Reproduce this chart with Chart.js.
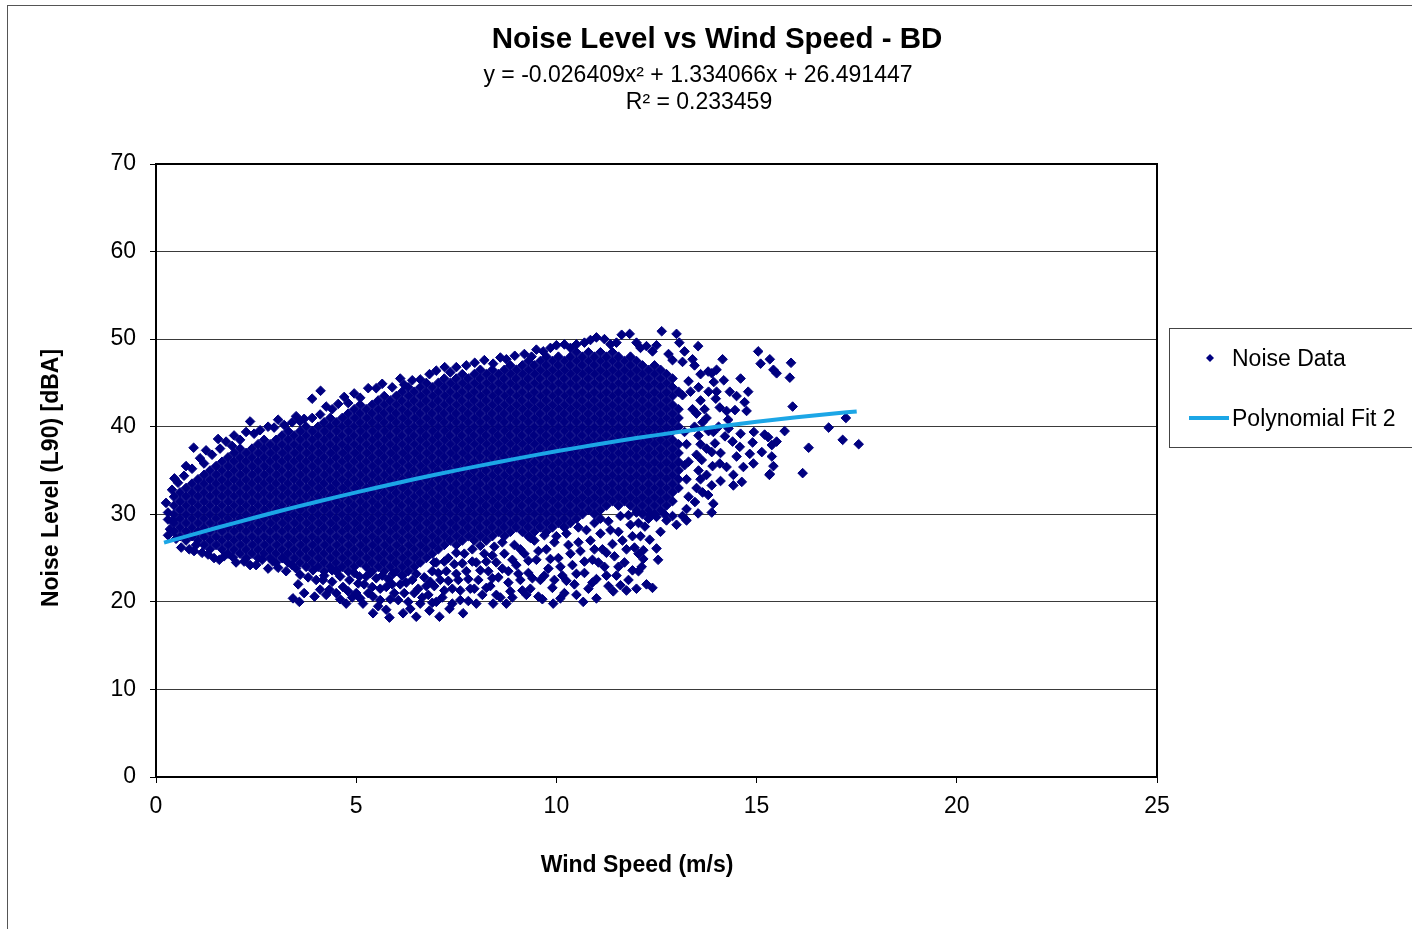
<!DOCTYPE html>
<html>
<head>
<meta charset="utf-8">
<title>Noise Level vs Wind Speed - BD</title>
<script src="https://cdn.jsdelivr.net/npm/chart.js@4.4.1/dist/chart.umd.min.js"></script>
<style>
  html, body { margin: 0; padding: 0; background: #fff; }
  #wrap { position: relative; width: 1412px; height: 929px; }
</style>
</head>
<body>
<div id="wrap"><canvas id="noiseChart"></canvas></div>
<script>
const chartTitle = 'Noise Level vs Wind Speed - BD';
const fitEquation = 'y = -0.026409x\u00B2 + 1.334066x + 26.491447';
const fitR2 = 'R\u00B2 = 0.233459';
const xTitle = 'Wind Speed (m/s)';
const yTitle = 'Noise Level (L90) [dBA]';
const legendLabels = ['Noise Data', 'Polynomial Fit 2'];

const xTicks = [0, 5, 10, 15, 20, 25];
const yTicks = [0, 10, 20, 30, 40, 50, 60, 70];

// dense body of the cloud, read column by column (wind speed -> noise levels)
const coreWind = [0.45, 0.6, 0.75, 0.9, 1.05, 1.2, 1.35, 1.5, 1.65, 1.8, 1.95, 2.1, 2.25, 2.4, 2.55, 2.7, 2.85, 3, 3.15, 3.3,
  3.45, 3.6, 3.75, 3.9, 4.05, 4.2, 4.35, 4.5, 4.65, 4.8, 4.95, 5.1, 5.25, 5.4, 5.55, 5.7, 5.85, 6, 6.15, 6.3,
  6.45, 6.6, 6.75, 6.9, 7.05, 7.2, 7.35, 7.5, 7.65, 7.8, 7.95, 8.1, 8.25, 8.4, 8.55, 8.7, 8.85, 9, 9.15, 9.3,
  9.45, 9.6, 9.75, 9.9, 10.05, 10.2, 10.35, 10.5, 10.65, 10.8, 10.95, 11.1, 11.25, 11.4, 11.55, 11.7, 11.85, 12, 12.15, 12.3,
  12.45, 12.6, 12.75, 12.9, 13.05];
const coreNoise = [
  [28,29,30,31,32],
  [27.5,28.5,29.5,30.5,31.5,32.5],
  [27,28,29,30,31,32,33],
  [27.5,28.5,29.5,30.5,31.5,32.5,33.5],
  [27,28,29,30,31,32,33,34],
  [26.5,27.5,28.5,29.5,30.5,31.5,32.5,33.5,34.5],
  [26,27,28,29,30,31,32,33,34,35],
  [26.5,27.5,28.5,29.5,30.5,31.5,32.5,33.5,34.5,35.5],
  [26,27,28,29,30,31,32,33,34,35,36],
  [25.5,26.5,27.5,28.5,29.5,30.5,31.5,32.5,33.5,34.5,35.5,36.5],
  [26,27,28,29,30,31,32,33,34,35,36,37],
  [25.5,26.5,27.5,28.5,29.5,30.5,31.5,32.5,33.5,34.5,35.5,36.5,37.5],
  [25,26,27,28,29,30,31,32,33,34,35,36,37],
  [25.5,26.5,27.5,28.5,29.5,30.5,31.5,32.5,33.5,34.5,35.5,36.5,37.5],
  [25,26,27,28,29,30,31,32,33,34,35,36,37,38],
  [25.5,26.5,27.5,28.5,29.5,30.5,31.5,32.5,33.5,34.5,35.5,36.5,37.5,38.5],
  [25,26,27,28,29,30,31,32,33,34,35,36,37,38],
  [24.5,25.5,26.5,27.5,28.5,29.5,30.5,31.5,32.5,33.5,34.5,35.5,36.5,37.5,38.5],
  [25,26,27,28,29,30,31,32,33,34,35,36,37,38,39],
  [24.5,25.5,26.5,27.5,28.5,29.5,30.5,31.5,32.5,33.5,34.5,35.5,36.5,37.5,38.5,39.5],
  [25,26,27,28,29,30,31,32,33,34,35,36,37,38,39],
  [24.5,25.5,26.5,27.5,28.5,29.5,30.5,31.5,32.5,33.5,34.5,35.5,36.5,37.5,38.5,39.5],
  [24,25,26,27,28,29,30,31,32,33,34,35,36,37,38,39,40],
  [24.5,25.5,26.5,27.5,28.5,29.5,30.5,31.5,32.5,33.5,34.5,35.5,36.5,37.5,38.5,39.5],
  [24,25,26,27,28,29,30,31,32,33,34,35,36,37,38,39,40],
  [23.5,24.5,25.5,26.5,27.5,28.5,29.5,30.5,31.5,32.5,33.5,34.5,35.5,36.5,37.5,38.5,39.5,40.5],
  [24,25,26,27,28,29,30,31,32,33,34,35,36,37,38,39,40,41],
  [23.5,24.5,25.5,26.5,27.5,28.5,29.5,30.5,31.5,32.5,33.5,34.5,35.5,36.5,37.5,38.5,39.5,40.5],
  [24,25,26,27,28,29,30,31,32,33,34,35,36,37,38,39,40,41],
  [23.5,24.5,25.5,26.5,27.5,28.5,29.5,30.5,31.5,32.5,33.5,34.5,35.5,36.5,37.5,38.5,39.5,40.5,41.5],
  [24,25,26,27,28,29,30,31,32,33,34,35,36,37,38,39,40,41,42],
  [24.5,25.5,26.5,27.5,28.5,29.5,30.5,31.5,32.5,33.5,34.5,35.5,36.5,37.5,38.5,39.5,40.5,41.5,42.5],
  [24,25,26,27,28,29,30,31,32,33,34,35,36,37,38,39,40,41,42],
  [23.5,24.5,25.5,26.5,27.5,28.5,29.5,30.5,31.5,32.5,33.5,34.5,35.5,36.5,37.5,38.5,39.5,40.5,41.5,42.5],
  [24,25,26,27,28,29,30,31,32,33,34,35,36,37,38,39,40,41,42,43],
  [23.5,24.5,25.5,26.5,27.5,28.5,29.5,30.5,31.5,32.5,33.5,34.5,35.5,36.5,37.5,38.5,39.5,40.5,41.5,42.5,43.5],
  [24,25,26,27,28,29,30,31,32,33,34,35,36,37,38,39,40,41,42,43],
  [23.5,24.5,25.5,26.5,27.5,28.5,29.5,30.5,31.5,32.5,33.5,34.5,35.5,36.5,37.5,38.5,39.5,40.5,41.5,42.5,43.5],
  [23,24,25,26,27,28,29,30,31,32,33,34,35,36,37,38,39,40,41,42,43,44],
  [23.5,24.5,25.5,26.5,27.5,28.5,29.5,30.5,31.5,32.5,33.5,34.5,35.5,36.5,37.5,38.5,39.5,40.5,41.5,42.5,43.5,44.5],
  [24,25,26,27,28,29,30,31,32,33,34,35,36,37,38,39,40,41,42,43,44],
  [24.5,25.5,26.5,27.5,28.5,29.5,30.5,31.5,32.5,33.5,34.5,35.5,36.5,37.5,38.5,39.5,40.5,41.5,42.5,43.5,44.5],
  [25,26,27,28,29,30,31,32,33,34,35,36,37,38,39,40,41,42,43,44,45],
  [25.5,26.5,27.5,28.5,29.5,30.5,31.5,32.5,33.5,34.5,35.5,36.5,37.5,38.5,39.5,40.5,41.5,42.5,43.5,44.5],
  [26,27,28,29,30,31,32,33,34,35,36,37,38,39,40,41,42,43,44,45],
  [26.5,27.5,28.5,29.5,30.5,31.5,32.5,33.5,34.5,35.5,36.5,37.5,38.5,39.5,40.5,41.5,42.5,43.5,44.5,45.5],
  [27,28,29,30,31,32,33,34,35,36,37,38,39,40,41,42,43,44,45],
  [26.5,27.5,28.5,29.5,30.5,31.5,32.5,33.5,34.5,35.5,36.5,37.5,38.5,39.5,40.5,41.5,42.5,43.5,44.5,45.5],
  [27,28,29,30,31,32,33,34,35,36,37,38,39,40,41,42,43,44,45,46],
  [27.5,28.5,29.5,30.5,31.5,32.5,33.5,34.5,35.5,36.5,37.5,38.5,39.5,40.5,41.5,42.5,43.5,44.5,45.5],
  [27,28,29,30,31,32,33,34,35,36,37,38,39,40,41,42,43,44,45,46],
  [27.5,28.5,29.5,30.5,31.5,32.5,33.5,34.5,35.5,36.5,37.5,38.5,39.5,40.5,41.5,42.5,43.5,44.5,45.5,46.5],
  [27,28,29,30,31,32,33,34,35,36,37,38,39,40,41,42,43,44,45,46],
  [27.5,28.5,29.5,30.5,31.5,32.5,33.5,34.5,35.5,36.5,37.5,38.5,39.5,40.5,41.5,42.5,43.5,44.5,45.5,46.5],
  [28,29,30,31,32,33,34,35,36,37,38,39,40,41,42,43,44,45,46],
  [27.5,28.5,29.5,30.5,31.5,32.5,33.5,34.5,35.5,36.5,37.5,38.5,39.5,40.5,41.5,42.5,43.5,44.5,45.5,46.5],
  [28,29,30,31,32,33,34,35,36,37,38,39,40,41,42,43,44,45,46,47],
  [28.5,29.5,30.5,31.5,32.5,33.5,34.5,35.5,36.5,37.5,38.5,39.5,40.5,41.5,42.5,43.5,44.5,45.5,46.5],
  [28,29,30,31,32,33,34,35,36,37,38,39,40,41,42,43,44,45,46,47],
  [27.5,28.5,29.5,30.5,31.5,32.5,33.5,34.5,35.5,36.5,37.5,38.5,39.5,40.5,41.5,42.5,43.5,44.5,45.5,46.5,47.5],
  [28,29,30,31,32,33,34,35,36,37,38,39,40,41,42,43,44,45,46,47],
  [28.5,29.5,30.5,31.5,32.5,33.5,34.5,35.5,36.5,37.5,38.5,39.5,40.5,41.5,42.5,43.5,44.5,45.5,46.5,47.5],
  [28,29,30,31,32,33,34,35,36,37,38,39,40,41,42,43,44,45,46,47,48],
  [28.5,29.5,30.5,31.5,32.5,33.5,34.5,35.5,36.5,37.5,38.5,39.5,40.5,41.5,42.5,43.5,44.5,45.5,46.5,47.5],
  [29,30,31,32,33,34,35,36,37,38,39,40,41,42,43,44,45,46,47,48],
  [28.5,29.5,30.5,31.5,32.5,33.5,34.5,35.5,36.5,37.5,38.5,39.5,40.5,41.5,42.5,43.5,44.5,45.5,46.5,47.5],
  [29,30,31,32,33,34,35,36,37,38,39,40,41,42,43,44,45,46,47,48],
  [29.5,30.5,31.5,32.5,33.5,34.5,35.5,36.5,37.5,38.5,39.5,40.5,41.5,42.5,43.5,44.5,45.5,46.5,47.5,48.5],
  [30,31,32,33,34,35,36,37,38,39,40,41,42,43,44,45,46,47,48],
  [30.5,31.5,32.5,33.5,34.5,35.5,36.5,37.5,38.5,39.5,40.5,41.5,42.5,43.5,44.5,45.5,46.5,47.5,48.5],
  [30,31,32,33,34,35,36,37,38,39,40,41,42,43,44,45,46,47,48],
  [30.5,31.5,32.5,33.5,34.5,35.5,36.5,37.5,38.5,39.5,40.5,41.5,42.5,43.5,44.5,45.5,46.5,47.5,48.5],
  [31,32,33,34,35,36,37,38,39,40,41,42,43,44,45,46,47,48],
  [31.5,32.5,33.5,34.5,35.5,36.5,37.5,38.5,39.5,40.5,41.5,42.5,43.5,44.5,45.5,46.5,47.5,48.5],
  [31,32,33,34,35,36,37,38,39,40,41,42,43,44,45,46,47,48],
  [31.5,32.5,33.5,34.5,35.5,36.5,37.5,38.5,39.5,40.5,41.5,42.5,43.5,44.5,45.5,46.5,47.5],
  [31,32,33,34,35,36,37,38,39,40,41,42,43,44,45,46,47,48],
  [30.5,31.5,32.5,33.5,34.5,35.5,36.5,37.5,38.5,39.5,40.5,41.5,42.5,43.5,44.5,45.5,46.5,47.5],
  [30,31,32,33,34,35,36,37,38,39,40,41,42,43,44,45,46,47],
  [29.5,30.5,31.5,32.5,33.5,34.5,35.5,36.5,37.5,38.5,39.5,40.5,41.5,42.5,43.5,44.5,45.5,46.5],
  [30,31,32,33,34,35,36,37,38,39,40,41,42,43,44,45,46,47],
  [30.5,31.5,32.5,33.5,34.5,35.5,36.5,37.5,38.5,39.5,40.5,41.5,42.5,43.5,44.5,45.5,46.5],
  [31,32,33,34,35,36,37,38,39,40,41,42,43,44,45,46],
  [31.5,32.5,33.5,34.5,35.5,36.5,37.5,38.5,39.5,40.5,41.5,42.5,43.5,44.5,45.5],
  [33,34,35,36,37,38,40,41,42,44]
];

// scattered readings around the body, [wind speed, noise level]
const upperFringe = [
  [0.25,31.3],[0.3,30.2],[0.4,32.8],[0.46,34.1],[0.55,33.6],[0.75,35.5],[0.7,34.4],[0.94,37.6],[0.9,35.2],[1.1,36.4],
  [1.25,37.3],[1.2,35.8],[1.4,36.8],[1.6,37.5],[1.55,38.6],[1.75,38.3],[1.9,37.8],[1.95,39.0],[2.1,38.5],[2.25,39.4],
  [2.35,40.6],[2.45,39.2],[2.6,39.6],[2.8,40.0],[2.95,39.9],[3.05,40.8],[3.2,40.2],[3.4,40.5],[3.5,41.2],[3.6,40.6],
  [3.7,40.9],[3.9,41.0],[3.9,43.2],[4.11,44.1],[4.1,41.4],[4.25,42.3],[4.4,42.0],[4.55,42.6],[4.8,42.7],[4.7,43.4],
  [4.95,43.8],[5.1,43.3],[5.3,44.4],[5.5,44.4],[5.65,44.9],[5.9,44.5],[6.1,45.5],[6.2,44.8],[6.4,45.3],[6.6,45.4],
  [6.83,46.0],[7.0,46.4],[7.21,46.8],[7.35,46.2],[7.5,46.8],[7.75,47.0],[7.96,47.3],[8.2,47.6],[8.42,47.2],[8.6,47.9],
  [8.75,47.7],[8.96,48.1],[9.2,48.3],[9.38,48.0],[9.5,48.8],[9.67,48.6],[9.85,49.0],[10.0,49.3],[10.2,49.4],[10.35,49.0],
  [10.5,49.4],[10.7,49.6],[10.85,49.9],[11.0,50.2],[11.2,50.0],[11.35,49.4],[11.5,49.6],[11.63,50.5],[11.83,50.6],[12.0,49.6],
  [12.1,49.0],[12.25,49.2],[12.4,48.6],[12.5,49.3],[12.63,50.9],[12.8,48.3],[12.9,47.6],[13.0,50.6],[13.07,49.6],[13.2,48.6],
  [13.15,47.4]
];
const lowerFringe = [
  [0.3,29.4],[0.35,28.3],[0.3,27.6],[0.5,27.2],[0.42,29.3],[0.63,26.2],[0.83,26.0],[1.0,26.5],[0.95,25.8],[1.15,25.6],
  [1.3,25.4],[1.45,25.0],[1.58,24.8],[1.7,25.2],[1.92,25.1],[2.0,24.5],[2.2,24.6],[2.35,24.2],[2.5,24.2],[2.65,24.8],
  [2.8,23.8],[2.92,24.6],[3.05,23.9],[3.17,25.0],[3.25,23.5],[3.4,24.2],[3.5,23.8],[3.6,23.1],[3.8,22.8],[3.92,23.6],
  [3.55,22.0],[3.42,20.4],[3.58,20.0],[3.7,21.0],[3.96,20.6],[4.0,22.5],[4.17,22.5],[4.2,23.0],[4.33,21.4],[4.4,22.3],
  [4.5,21.0],[4.5,23.6],[4.6,22.9],[4.67,21.7],[4.75,19.8],[4.83,22.5],[4.9,20.5],[4.95,23.3],[5.0,21.0],[5.08,22.9],
  [5.17,19.8],[5.2,22.0],[5.3,21.0],[5.35,23.3],[5.42,18.7],[5.42,20.6],[5.5,22.7],[5.6,21.5],[5.6,20.2],[5.75,19.1],
  [5.75,21.7],[5.8,22.6],[5.83,18.2],[5.92,23.2],[5.95,21.0],[6.1,22.0],[6.17,18.7],[6.2,21.0],[6.3,20.0],[6.4,22.5],
  [6.5,18.3],[6.55,21.5],[6.6,19.8],[6.7,22.8],[6.8,20.8],[6.83,19.0],[6.9,23.5],[6.95,21.8],[7.0,24.5],[7.08,18.3],
  [7.1,22.5],[7.15,20.5],[7.25,23.5],[7.3,25.0],[7.33,19.2],[7.4,21.5],[7.45,24.3],[7.55,22.5],[7.6,20.2],[7.67,18.7],
  [7.7,25.5],[7.75,23.5],[7.85,21.5],[7.9,26.0],[8.0,19.8],[8.0,24.5],[8.05,22.5],[8.15,20.8],[8.2,25.5],[8.3,23.5],
  [8.35,21.8],[8.42,19.8],[8.45,26.3],[8.5,24.5],[8.55,22.8],[8.6,20.5],[8.7,25.5],[8.75,19.8],[8.8,23.5],[8.85,21.2],
  [8.95,26.5],[9.0,24.2],[9.1,22.5],[9.2,25.5],[9.25,20.8],[9.3,23.3],[9.35,21.5],[9.45,27.0],[9.5,24.8],[9.6,22.5],
  [9.65,20.3],[9.75,26.0],[9.8,23.8],[9.9,21.6],[9.92,19.8],[10.0,27.5],[10.05,25.0],[10.15,23.0],[10.2,21.0],[10.3,26.5],
  [10.4,24.2],[10.45,22.0],[10.55,28.5],[10.6,25.8],[10.67,20.0],[10.7,23.3],[10.8,21.5],[10.85,27.0],[10.9,24.8],[11.0,22.6],
  [11.0,20.4],[11.1,29.5],[11.15,26.0],[11.2,24.0],[11.3,21.8],[11.35,28.2],[11.42,21.2],[11.45,25.2],[11.5,23.0],[11.6,29.8],
  [11.65,27.0],[11.7,24.5],[11.75,21.3],[11.8,22.5],[11.85,28.8],[11.95,26.2],[12.0,30.2],[12.05,23.5],[12.1,27.5],[12.25,22.0],
  [12.35,29.9],[12.4,21.6],[12.0,21.5],[12.6,28.0],[12.7,30.0],[12.9,29.8]
];
// second pass over the looser area under the body
const lowerInfill = [
  [4.1,21.4],[4.25,20.8],[4.4,23.6],[4.6,20.3],[4.8,21.2],[5.05,22.1],[5.1,20.4],[5.25,22.9],[5.4,21.7],[5.55,19.5],
  [5.65,23.0],[5.85,20.3],[5.9,22.0],[6.05,20.2],[6.15,23.0],[6.25,22.2],[6.35,19.2],[6.45,21.0],[6.5,23.2],[6.65,20.5],
  [6.75,21.8],[6.85,22.3],[6.9,19.9],[6.95,24.5],[7.0,20.0],[7.05,23.3],[7.2,21.3],[7.2,24.6],[7.3,22.4],[7.4,19.8],
  [7.5,23.2],[7.5,25.6],[7.6,21.3],[7.65,24.4],[7.8,22.6],[7.8,20.1],[7.9,24.6],[7.95,21.5],[8.1,23.6],[8.1,26.4],
  [8.25,21.6],[8.25,24.6],[8.4,22.7],[8.4,25.3],[8.5,20.8],[8.65,23.8],[8.65,26.8],[8.8,22.2],[8.9,24.8],[8.9,20.5],
  [9.05,23.2],[9.1,26.0],[9.15,21.3],[9.3,24.7],[9.35,27.3],[9.4,22.7],[9.55,20.6],[9.55,25.8],[9.7,23.0],[9.7,27.6],
  [9.85,24.9],[9.95,22.5],[9.95,26.8],[10.1,20.4],[10.1,24.0],[10.25,22.4],[10.25,27.8],[10.35,25.5],[10.5,23.2],[10.5,20.8],
  [10.55,26.8],[10.7,24.6],[10.75,28.2],[10.9,22.2],[10.95,26.0],[10.95,29.0],[11.05,24.5],[11.1,27.8],[11.25,23.0],[11.25,25.6],
  [11.3,29.2],[11.4,26.6],[11.55,24.0],[11.55,28.0],[11.6,21.9],[11.75,26.0],[11.8,29.9],[11.9,23.6],[11.9,27.5],[12.05,25.5],
  [12.05,29.0]
];
const rightFringe = [
  [13.3,45.2],[13.35,44.0],[13.4,42.0],[13.45,40.0],[13.25,38.0],[13.3,36.0],[13.25,34.0],[13.3,32.0],[13.25,30.6],[13.15,29.8],
  [13.55,44.5],[13.6,43.0],[13.5,41.5],[13.65,40.5],[13.55,39.0],[13.6,38.0],[13.55,35.0],[13.6,34.0],[13.5,33.0],[13.65,32.5],
  [13.7,42.0],[13.8,44.0],[13.75,41.0],[13.8,39.5],[13.75,34.5],[14.0,44.0],[14.05,40.0],[13.9,35.5],[14.1,37.0],[14.3,39.8],
  [14.4,38.3],[14.1,33.8],[14.6,39.2],[14.9,38.2],[14.7,42.8],[14.5,43.5],[14.0,46.5],[14.6,45.5],[13.45,47.0],[13.6,46.0],
  [13.4,47.7],[13.54,49.2],[14.15,47.7],[15.04,48.6],[15.1,47.2],[15.33,47.7],[15.42,46.5],[15.5,46.1],[15.86,47.3],[15.83,45.6],
  [15.9,42.3],[17.23,41.0],[16.8,39.9],[15.7,39.5],[17.15,38.5],[17.55,38.0],[16.3,37.6],[16.15,34.7],[14.79,44.0],[14.33,44.0],
  [14.75,41.8],[14.46,41.9],[14.29,40.8],[14.18,45.3],[13.93,45.1],[13.88,46.1],[13.79,46.3],[13.98,43.2],[14.08,42.2],[14.25,41.8],
  [14.93,39.4],[15.2,39.1],[15.29,38.8],[15.38,37.9],[15.5,38.3],[15.13,37.1],[15.38,36.6],[15.42,35.5],[15.33,34.6],[14.92,35.8],
  [14.83,36.9],[14.58,37.7],[14.5,36.6],[14.67,35.4],[14.25,35.4],[14.42,34.5],[14.08,35.8],[13.92,39.4],[14.21,38.9],[13.96,38.1],
  [13.75,37.5],[13.88,37.1],[13.5,36.8],[13.63,36.2],[15.32,34.5],[14.42,33.3],[14.63,33.7],[13.88,33.3],[13.79,32.2],[13.92,31.2],
  [13.88,30.2],[13.46,31.4],[13.54,30.1],[13.25,29.3],[13.0,28.8],[12.75,29.3],[12.5,29.7],[12.21,28.6],[12.33,27.1],[12.5,26.1],
  [12.17,25.9],[12.17,24.9],[12.54,24.8],[12.13,24.0],[13.2,39.4],[13.2,35.6],[13.15,43.6]
];

// polynomial fit curve, read at whole wind speeds
const fitWind = [0.2, 1, 2, 3, 4, 5, 6, 7, 8, 9, 10, 11, 12, 13, 14, 15, 16, 17, 17.5];
const fitNoise = [26.76, 27.8, 29.05, 30.26, 31.41, 32.5, 33.55, 34.54, 35.47, 36.36, 37.19, 37.97, 38.7, 39.37, 39.99, 40.56, 41.08, 41.54, 41.75];

const FONT = '"Liberation Sans", Arial, sans-serif';
const NAVY = '#000080';
const FIT_BLUE = '#1ca6e6';

const noisePoints = [];
coreWind.forEach((x, i) => {
  coreNoise[i].forEach(y => noisePoints.push({ x, y }));
});
[upperFringe, lowerFringe, lowerInfill, rightFringe].forEach(list => {
  list.forEach(([x, y]) => noisePoints.push({ x, y }));
});
const fitPoints = fitWind.map((x, i) => ({ x, y: fitNoise[i] }));

// titles, plot frame and the boxed legend
const chartDecor = {
  id: 'chartDecor',
  beforeDraw(chart) {
    const ctx = chart.ctx;
    ctx.save();
    ctx.fillStyle = '#fff';
    ctx.fillRect(0, 0, chart.width, chart.height);
    ctx.strokeStyle = '#555';
    ctx.lineWidth = 1;
    ctx.strokeRect(7.5, 5.5, chart.width + 20, chart.height + 20);
    ctx.restore();
  },
  afterDraw(chart) {
    const { ctx, chartArea: a } = chart;
    ctx.save();

    ctx.strokeStyle = '#000';
    ctx.lineWidth = 2;
    ctx.beginPath();
    ctx.moveTo(a.left, a.top);
    ctx.lineTo(a.right, a.top);
    ctx.lineTo(a.right, a.bottom);
    ctx.stroke();

    ctx.fillStyle = '#000';
    ctx.textAlign = 'center';
    ctx.textBaseline = 'middle';
    ctx.font = `bold 29.5px ${FONT}`;
    ctx.fillText(chartTitle, 717, 40);
    ctx.font = `23px ${FONT}`;
    ctx.fillText(fitEquation, 698, 76);
    ctx.fillText(fitR2, 699, 103);

    ctx.font = `bold 23px ${FONT}`;
    ctx.fillText(xTitle, 637, 866);
    ctx.save();
    ctx.translate(52, 478);
    ctx.rotate(-Math.PI / 2);
    ctx.fillText(yTitle, 0, 0);
    ctx.restore();

    // legend
    ctx.strokeStyle = '#444';
    ctx.lineWidth = 1;
    ctx.strokeRect(1169.5, 328.5, 300, 119);
    ctx.fillStyle = NAVY;
    ctx.beginPath();
    ctx.moveTo(1210, 354);
    ctx.lineTo(1214, 358);
    ctx.lineTo(1210, 362);
    ctx.lineTo(1206, 358);
    ctx.closePath();
    ctx.fill();
    ctx.strokeStyle = FIT_BLUE;
    ctx.lineWidth = 4;
    ctx.beginPath();
    ctx.moveTo(1189, 418);
    ctx.lineTo(1229, 418);
    ctx.stroke();
    ctx.fillStyle = '#000';
    ctx.textAlign = 'left';
    ctx.font = `23px ${FONT}`;
    ctx.fillText(legendLabels[0], 1232, 360);
    ctx.fillText(legendLabels[1], 1232, 420);

    ctx.restore();
  }
};

const tickFont = { family: FONT, size: 23 };

new Chart(document.getElementById('noiseChart'), {
  type: 'scatter',
  data: {
    datasets: [
      {
        label: legendLabels[1],
        data: fitPoints,
        showLine: true,
        borderColor: FIT_BLUE,
        borderWidth: 4,
        pointRadius: 0,
        tension: 0.3,
        order: 1
      },
      {
        label: legendLabels[0],
        data: noisePoints,
        pointStyle: 'rectRot',
        pointRadius: 4.8,
        backgroundColor: NAVY,
        borderColor: NAVY,
        borderWidth: 1,
        order: 2
      }
    ]
  },
  options: {
    responsive: true,
    maintainAspectRatio: false,
    animation: false,
    devicePixelRatio: 1,
    events: [],
    layout: { padding: { top: 164, right: 255, bottom: 0, left: 0 } },
    plugins: {
      legend: { display: false },
      tooltip: { enabled: false }
    },
    scales: {
      x: {
        type: 'linear',
        min: xTicks[0],
        max: xTicks[xTicks.length - 1],
        afterFit: scale => { scale.height = 152; },
        afterBuildTicks: scale => { scale.ticks = xTicks.map(v => ({ value: v })); },
        ticks: { color: '#000', font: tickFont, padding: 10, maxRotation: 0 },
        grid: { drawOnChartArea: false, tickLength: 6, color: '#000' },
        border: { color: '#000', width: 2 }
      },
      y: {
        min: yTicks[0],
        max: yTicks[yTicks.length - 1],
        afterFit: scale => { scale.width = 156; },
        afterBuildTicks: scale => { scale.ticks = yTicks.map(v => ({ value: v })); },
        ticks: { color: '#000', font: tickFont, padding: 14 },
        grid: { color: '#3a3a3a', tickColor: '#000', tickLength: 6 },
        border: { color: '#000', width: 2 }
      }
    }
  },
  plugins: [chartDecor]
});
</script>
</body>
</html>
